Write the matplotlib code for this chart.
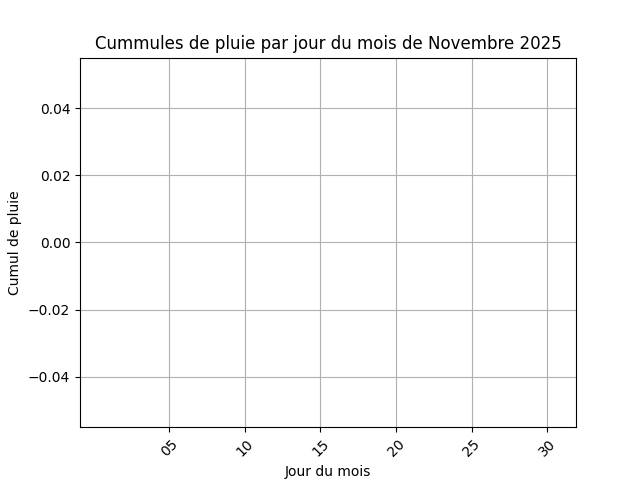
import numpy as np
import matplotlib
matplotlib.use("Agg")
import matplotlib.pyplot as plt

# Jours de novembre 2025 et cumuls (aucune pluie relevée)
jours = list(range(1, 31))
cumuls = [0.0] * 30
ticks_jours = [5, 10, 15, 20, 25, 30]
ticks_labels = ["05", "10", "15", "20", "25", "30"]

fig, ax = plt.subplots(figsize=(6.4, 4.8), dpi=100)
ax.bar(jours, cumuls)

ax.set_title("Cummules de pluie par jour du mois de Novembre 2025")
ax.set_xlabel("Jour du mois")
ax.set_ylabel("Cumul de pluie")
ax.set_xticks(ticks_jours)
ax.set_xticklabels(ticks_labels, rotation=45)
ax.set_ylim(-0.055, 0.055)
ax.grid(True)

plt.savefig("out.png")
